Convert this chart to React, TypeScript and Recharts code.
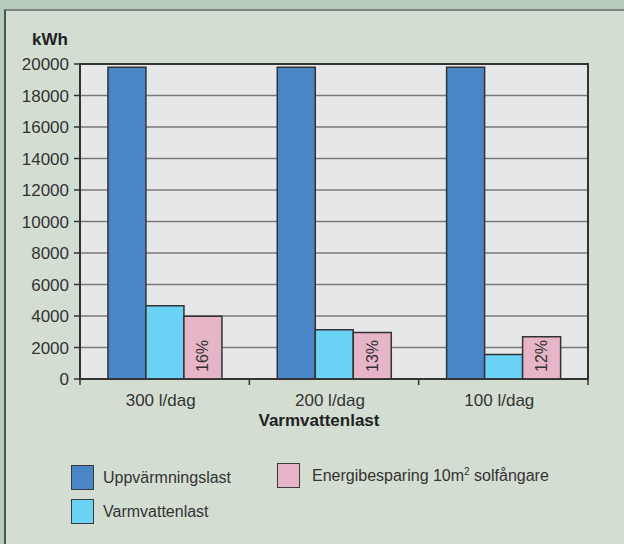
import React from "react";
import {
  BarChart,
  Bar,
  XAxis,
  YAxis,
  CartesianGrid,
  ReferenceArea,
  LabelList,
  Legend,
  Label,
} from "recharts";

const categories = ["300 l/dag", "200 l/dag", "100 l/dag"];
const heatingLoad = [19800, 19800, 19800];
const hotWaterLoad = [4650, 3120, 1560];
const solarSaving = [3980, 2950, 2680];
const savingShare = ["16%", "13%", "12%"];
const yTicks = [0, 2000, 4000, 6000, 8000, 10000, 12000, 14000, 16000, 18000, 20000];

const FONT = '"Liberation Sans", Arial, Helvetica, sans-serif';
const INK = "#333333";
const BLUE = "#4a86c6";
const CYAN = "#6ad2f4";
const PINK = "#e6b5c7";

const data = categories.map((name, i) => ({
  name,
  heat: heatingLoad[i],
  water: hotWaterLoad[i],
  saving: solarSaving[i],
  pct: savingShare[i],
}));

const legendItems = [
  { label: "Uppvärmningslast", color: BLUE, left: 71, top: 10 },
  { label: "Varmvattenlast", color: CYAN, left: 71, top: 44 },
  { label: "Energibesparing 10m", sup: "2", rest: " solfångare", color: PINK, left: 277, top: 8 },
];

const TICK_SIZE = 6;
const TICK_MARGIN = 9;

// category label plus the short marks between groups
function XTick(props: any) {
  const { x, y, payload, index, visibleTicksCount } = props;
  const half = payload.offset || 0;
  const axisY = y - TICK_SIZE - TICK_MARGIN;
  const last = index === visibleTicksCount - 1;
  return (
    <g>
      <line x1={x - half} x2={x - half} y1={axisY} y2={axisY + TICK_SIZE} stroke={INK} strokeWidth={1.5} />
      {last && (
        <line x1={x + half} x2={x + half} y1={axisY} y2={axisY + TICK_SIZE} stroke={INK} strokeWidth={1.5} />
      )}
      <text x={x - 4} y={y} dy="0.71em" textAnchor="middle" fontSize={17} fill={INK} fontFamily={FONT}>
        {payload.value}
      </text>
    </g>
  );
}

function PctLabel(props: any) {
  const { x, y, width, height, value } = props;
  const cx = x + width / 2;
  const by = y + height - 7;
  return (
    <text
      x={cx}
      y={by}
      transform={`rotate(-90 ${cx} ${by})`}
      textAnchor="start"
      dominantBaseline="central"
      fontSize={16}
      fill={INK}
      fontFamily={FONT}
    >
      {value}
    </text>
  );
}

function LegendBox() {
  return (
    <div style={{ position: "relative", width: 624, height: 80, fontFamily: FONT }}>
      {legendItems.map((it) => (
        <div
          key={it.label}
          style={{ position: "absolute", left: it.left, top: it.top, display: "flex", alignItems: "center" }}
        >
          <div
            style={{
              width: 21,
              height: 23,
              background: it.color,
              border: "1.5px solid #3a3a3a",
              marginRight: it.sup ? 12 : 9,
            }}
          />
          <span style={{ fontSize: 16, color: INK, whiteSpace: "nowrap" }}>
            {it.label}
            {it.sup && <sup style={{ fontSize: 10, verticalAlign: "6px" }}>{it.sup}</sup>}
            {it.rest}
          </span>
        </div>
      ))}
    </div>
  );
}

export default function App() {
  return (
    <div style={{ position: "absolute", left: 0, top: 0, width: 624, height: 544, background: "#b5cbbb" }}>
      <div
        style={{
          position: "absolute",
          left: 4,
          top: 9,
          width: 620,
          height: 535,
          background: "#d3ddd2",
          borderTop: "2px solid #7b827d",
          borderLeft: "2px solid #4e534f",
          boxSizing: "border-box",
        }}
      />
      <div style={{ position: "absolute", left: 0, top: 0, width: 624, height: 544 }}>
        <BarChart
          width={624}
          height={544}
          data={data}
          margin={{ top: 64, right: 36, left: 0, bottom: 135 }}
          barCategoryGap="16.5%"
          barGap={0}
          style={{ fontFamily: FONT }}
        >
          <CartesianGrid
            xAxisId="cat"
            vertical={false}
            stroke="#7a7a7a"
            strokeWidth={1.5}
            fill="#e6e7e9"
            fillOpacity={1}
          />
          <XAxis
            xAxisId="cat"
            dataKey="name"
            axisLine={{ stroke: INK, strokeWidth: 1.5 }}
            tickLine={false}
            tickSize={TICK_SIZE}
            tickMargin={TICK_MARGIN}
            tick={<XTick />}
            interval={0}
            height={30}
          >
            <Label
              content={(p: any) => {
                const vb = p.viewBox;
                return (
                  <text
                    x={vb.x + vb.width / 2 - 15}
                    y={vb.y + 47}
                    textAnchor="middle"
                    fontSize={17}
                    fontWeight="bold"
                    fill="#222"
                    fontFamily={FONT}
                  >
                    Varmvattenlast
                  </text>
                );
              }}
            />
          </XAxis>
          <YAxis
            width={80}
            domain={[0, 20000]}
            ticks={yTicks}
            interval={0}
            tick={{ fill: INK, fontSize: 17 }}
            tickSize={6}
            tickMargin={5}
            tickLine={{ stroke: INK, strokeWidth: 1.5 }}
            axisLine={{ stroke: INK, strokeWidth: 1.5 }}
          >
            <Label
              content={(p: any) => {
                const vb = p.viewBox;
                return (
                  <text
                    x={vb.x + vb.width - 12}
                    y={vb.y - 19}
                    textAnchor="end"
                    fontSize={17}
                    fontWeight="bold"
                    fill="#222"
                    fontFamily={FONT}
                  >
                    kWh
                  </text>
                );
              }}
            />
          </YAxis>
          <ReferenceArea
            xAxisId="cat"
            y1={0}
            y2={20000}
            fill="none"
            fillOpacity={0}
            stroke={INK}
            strokeWidth={2}
            strokeOpacity={1}
          />
          <Bar xAxisId="cat" dataKey="heat" fill={BLUE} stroke={INK} strokeWidth={1.5} isAnimationActive={false} />
          <Bar xAxisId="cat" dataKey="water" fill={CYAN} stroke={INK} strokeWidth={1.5} isAnimationActive={false} />
          <Bar xAxisId="cat" dataKey="saving" fill={PINK} stroke={INK} strokeWidth={1.5} isAnimationActive={false}>
            <LabelList dataKey="pct" content={PctLabel} />
          </Bar>
          <Legend
            layout="horizontal"
            verticalAlign="middle"
            align="center"
            wrapperStyle={{ left: 0, top: 455, width: 624 }}
            content={() => <LegendBox />}
          />
        </BarChart>
      </div>
    </div>
  );
}
